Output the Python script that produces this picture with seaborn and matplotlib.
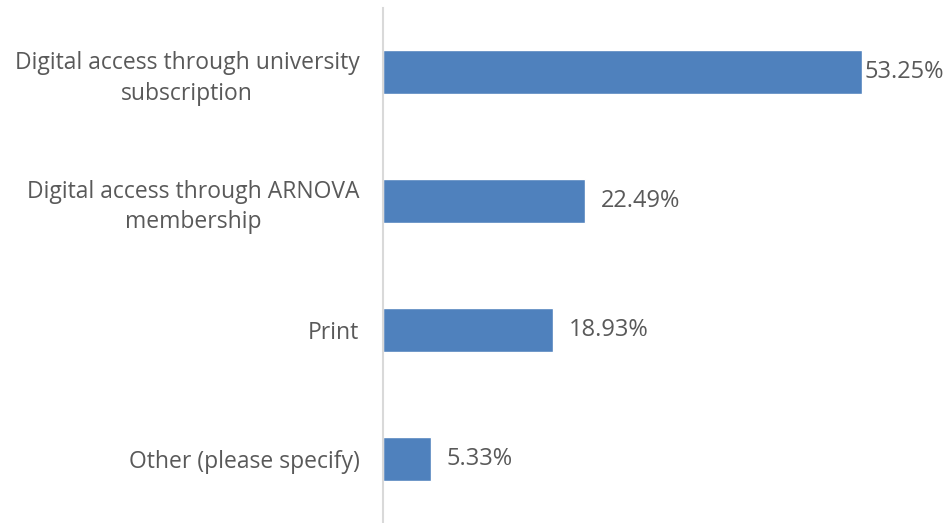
import pandas as pd
import matplotlib.pyplot as plt
import seaborn as sns

categories = ['Digital access through university\nsubscription',
              'Digital access through ARNOVA\nmembership',
              'Print',
              'Other (please specify)']
shares = [53.25, 22.49, 18.93, 5.33]
labels = ['53.25%', '22.49%', '18.93%', '5.33%']

df = pd.DataFrame({'category': categories, 'share': shares})

sns.set_style('white')
plt.rcParams['font.family'] = ['Open Sans', 'DejaVu Sans']

fig = plt.figure(figsize=(9.48, 5.23), dpi=100)
ax = fig.add_axes([0.404, 0.0, 0.5696, 0.9847])

sns.barplot(data=df, x='share', y='category', orient='h', color='#4F81BD',
            saturation=1, width=0.34, ax=ax)

ax.set_xlim(0, 60)
ax.set_ylim(3.5, -0.5)
ax.set_xlabel('')
ax.set_ylabel('')
ax.set_xticks([])
for s in ['top', 'right', 'bottom']:
    ax.spines[s].set_visible(False)
ax.spines['left'].set_color('#D9D9D9')
ax.spines['left'].set_linewidth(1.5)

ax.tick_params(axis='y', length=0, pad=17, labelsize=16.5, labelcolor='#595959')
for t in ax.get_yticklabels():
    t.set_multialignment('center')
    t.set_linespacing(1.35)

for i, (v, lab) in enumerate(zip(shares, labels)):
    ax.text(v + 0.2 if i == 0 else v + 1.7, i, lab, va='center', ha='left',
            fontsize=17, color='#595959', clip_on=False)

plt.savefig('out.png', dpi=100)
